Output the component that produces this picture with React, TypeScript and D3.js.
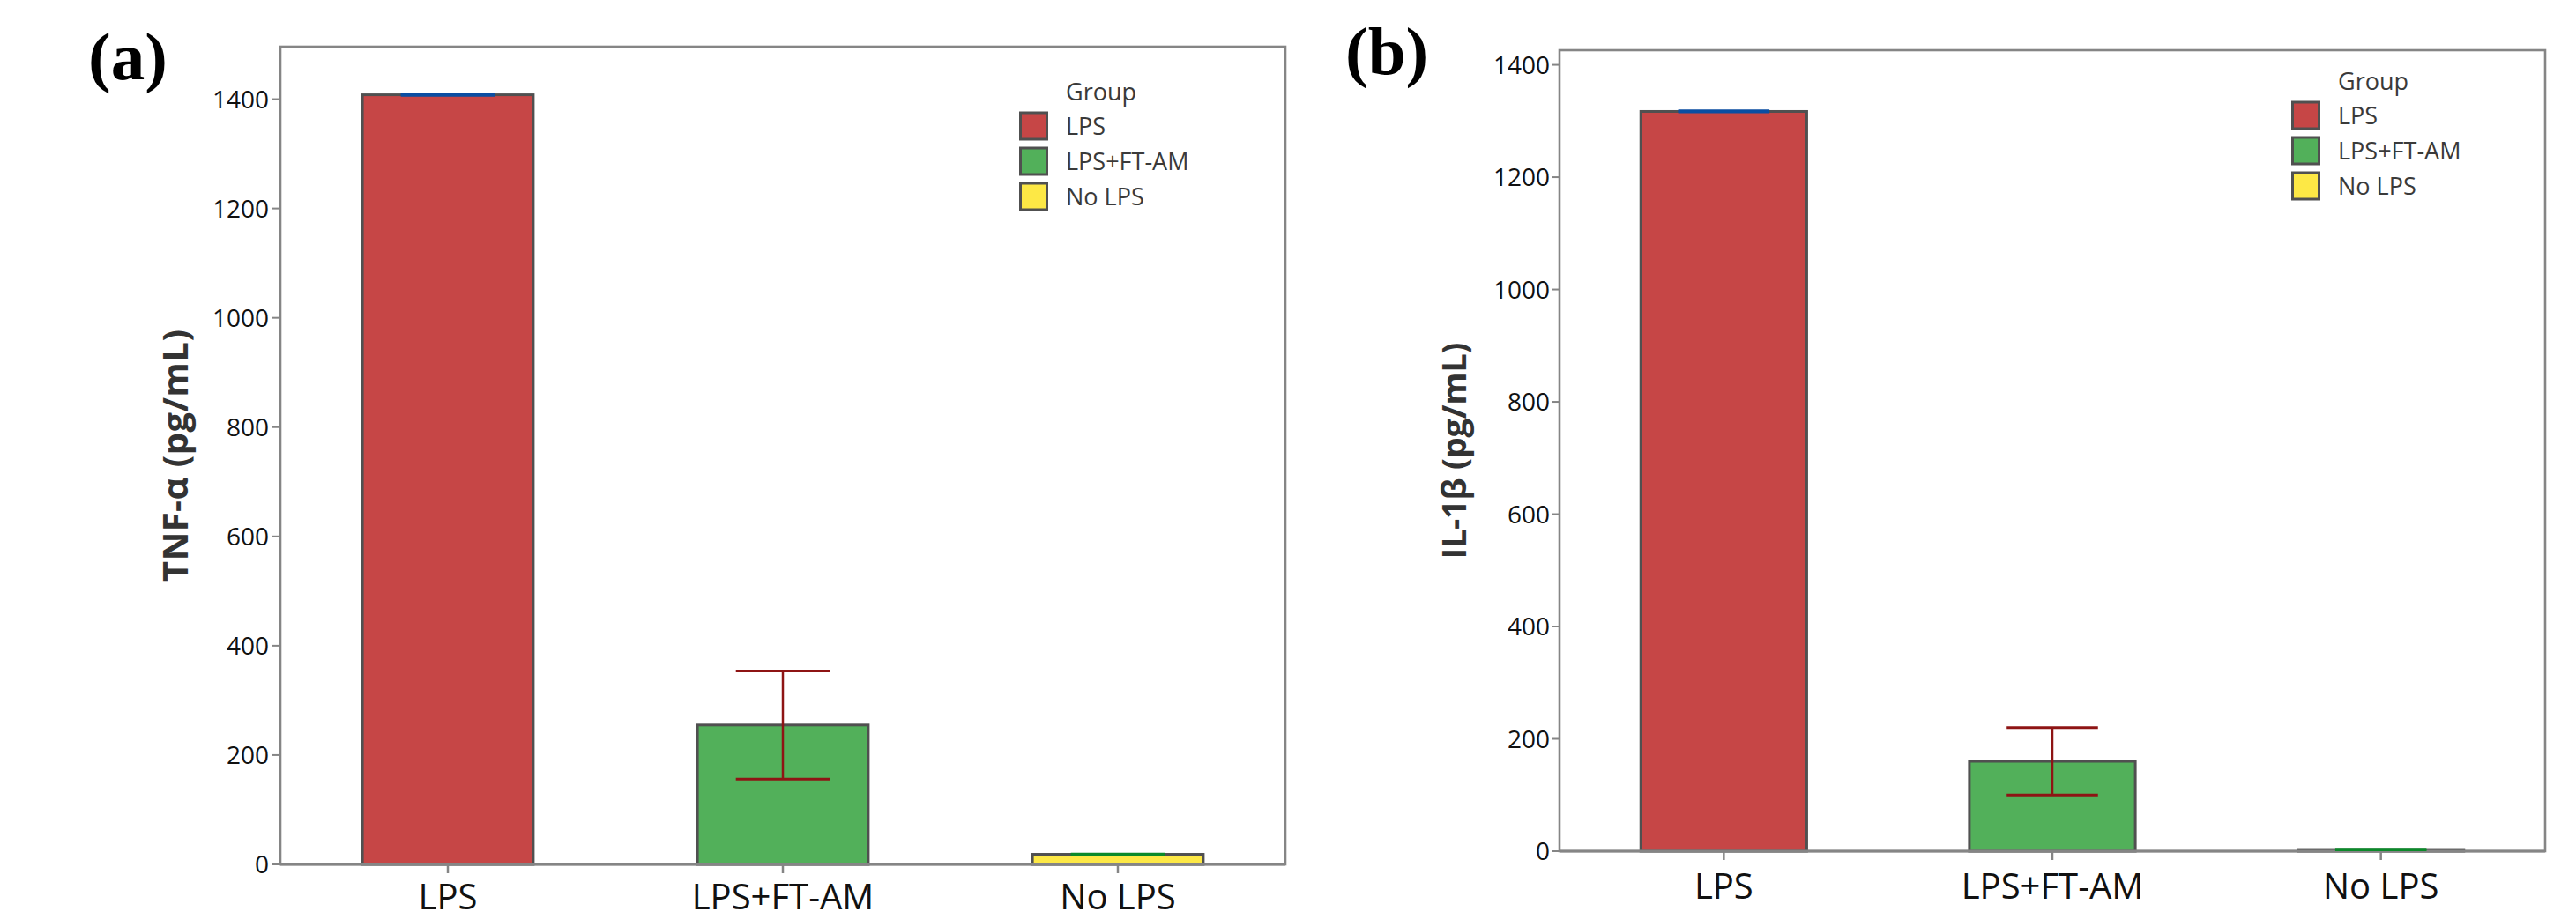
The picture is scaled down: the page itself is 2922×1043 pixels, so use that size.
import React from "react";
import * as d3 from "d3";

const categories = ["LPS", "LPS+FT-AM", "No LPS"];
const groupColors = ["#C64646", "#52B05A", "#FDE845"];
const errorColors = ["#0B4EA2", "#8E1414", "#0B8A2A"];
const tnfMeans = [1408, 255, 18.5];
const tnfErr = [1, 99, 0.5];
const il1bMeans = [1317, 160, 3];
const il1bErr = [1, 60, 0.5];
const yTicks = [0, 200, 400, 600, 800, 1000, 1200, 1400];
const legendTitle = "Group";

const FONT = "'Open Sans', 'Noto Sans', sans-serif";

type PanelProps = {
  label: string;
  labelX: number;
  labelY: number;
  yTitle: string;
  means: number[];
  errs: number[];
  left: number;
  right: number;
  top: number;
  bottom: number;
  yMax: number;
  pad: number;
  titleX: number;
  titleLen: number;
  titleSize: number;
  tickLen: number;
  xLabelY: number;
  legendX: number;
  legendY: number;
};

function Panel(p: PanelProps) {
  const x = d3
    .scaleBand<string>()
    .domain(categories)
    .range([p.left, p.right])
    .paddingInner(p.pad)
    .paddingOuter(p.pad / 2);
  const y = d3.scaleLinear().domain([0, p.yMax]).range([p.bottom, p.top]);
  const bw = x.bandwidth();
  const capW = bw * 0.55;
  const midY = (p.top + p.bottom) / 2;
  return (
    <g>
      <text
        x={p.labelX}
        y={p.labelY}
        fontFamily="'Liberation Serif', 'Times New Roman', serif"
        fontWeight="bold"
        fontSize={77}
        fill="#000"
      >
        {p.label}
      </text>
      <rect
        x={p.left}
        y={p.top}
        width={p.right - p.left}
        height={p.bottom - p.top}
        fill="#fff"
        stroke="#858585"
        strokeWidth={2.6}
      />
      {yTicks.map((t) => (
        <g key={t}>
          <line
            x1={p.left - p.tickLen}
            x2={p.left}
            y1={y(t)}
            y2={y(t)}
            stroke="#858585"
            strokeWidth={2}
          />
          <text
            x={p.left - p.tickLen - 3}
            y={y(t)}
            dy="0.36em"
            textAnchor="end"
            fontFamily={FONT}
            fontSize={28}
            fill="#111"
          >
            {t}
          </text>
        </g>
      ))}
      <text
        transform={`translate(${p.titleX},${midY}) rotate(-90)`}
        textAnchor="middle"
        fontFamily={FONT}
        fontWeight="bold"
        fontSize={p.titleSize}
        fill="#333"
        textLength={p.titleLen}
        lengthAdjust="spacing"
      >
        {p.yTitle}
      </text>
      {categories.map((c, i) => (
        <rect
          key={c}
          x={x(c)!}
          y={y(p.means[i])}
          width={bw}
          height={p.bottom - y(p.means[i])}
          fill={groupColors[i]}
          stroke="#505050"
          strokeWidth={3}
        />
      ))}
      <line
        x1={p.left}
        x2={p.right}
        y1={p.bottom}
        y2={p.bottom}
        stroke="#858585"
        strokeWidth={3}
      />
      {categories.map((c) => {
        const cx = x(c)! + bw / 2;
        return (
          <g key={c}>
            <line
              x1={cx}
              x2={cx}
              y1={p.bottom}
              y2={p.bottom + 10}
              stroke="#858585"
              strokeWidth={2.5}
            />
            <text
              x={cx}
              y={p.xLabelY}
              textAnchor="middle"
              fontFamily={FONT}
              fontSize={40}
              fill="#111"
            >
              {c}
            </text>
          </g>
        );
      })}
      {categories.map((c, i) => {
        const cx = x(c)! + bw / 2;
        const hi = y(p.means[i] + p.errs[i]);
        const lo = y(p.means[i] - p.errs[i]);
        return (
          <g key={c} stroke={errorColors[i]} strokeWidth={3}>
            <line x1={cx} x2={cx} y1={hi} y2={lo} strokeWidth={2.5} />
            <line x1={cx - capW / 2} x2={cx + capW / 2} y1={hi} y2={hi} />
            <line x1={cx - capW / 2} x2={cx + capW / 2} y1={lo} y2={lo} />
          </g>
        );
      })}
      <text
        x={p.legendX + 53}
        y={p.legendY}
        fontFamily={FONT}
        fontSize={27}
        fill="#3a3a3a"
      >
        {legendTitle}
      </text>
      {categories.map((c, i) => (
        <g key={c}>
          <rect
            x={p.legendX + 1.5}
            y={p.legendY + 14 + i * 40}
            width={30}
            height={30}
            fill={groupColors[i]}
            stroke="#505050"
            strokeWidth={3}
          />
          <text
            x={p.legendX + 53}
            y={p.legendY + 14 + i * 40 + 15}
            dy="0.36em"
            fontFamily={FONT}
            fontSize={27}
            fill="#3a3a3a"
          >
            {c}
          </text>
        </g>
      ))}
    </g>
  );
}

export default function App() {
  return (
    <svg
      width={2922}
      height={1043}
      style={{ position: "absolute", left: 0, top: 0, background: "#fff", display: "block" }}
    >
      <rect x={0} y={0} width={2922} height={1043} fill="#fff" />
      <Panel
        label="(a)"
        labelX={100}
        labelY={90}
        yTitle="TNF-α (pg/mL)"
        means={tnfMeans}
        errs={tnfErr}
        left={318}
        right={1458}
        top={53}
        bottom={981}
        yMax={1496}
        pad={0.49}
        titleX={213}
        titleLen={286}
        titleSize={40}
        tickLen={10}
        xLabelY={1032}
        legendX={1156}
        legendY={114}
      />
      <Panel
        label="(b)"
        labelX={1526}
        labelY={84}
        yTitle="IL-1β (pg/mL)"
        means={il1bMeans}
        errs={il1bErr}
        left={1769}
        right={2887}
        top={57}
        bottom={966}
        yMax={1426}
        pad={0.495}
        titleX={1663}
        titleLen={246}
        titleSize={38}
        tickLen={8}
        xLabelY={1020}
        legendX={2599}
        legendY={102}
      />
    </svg>
  );
}
